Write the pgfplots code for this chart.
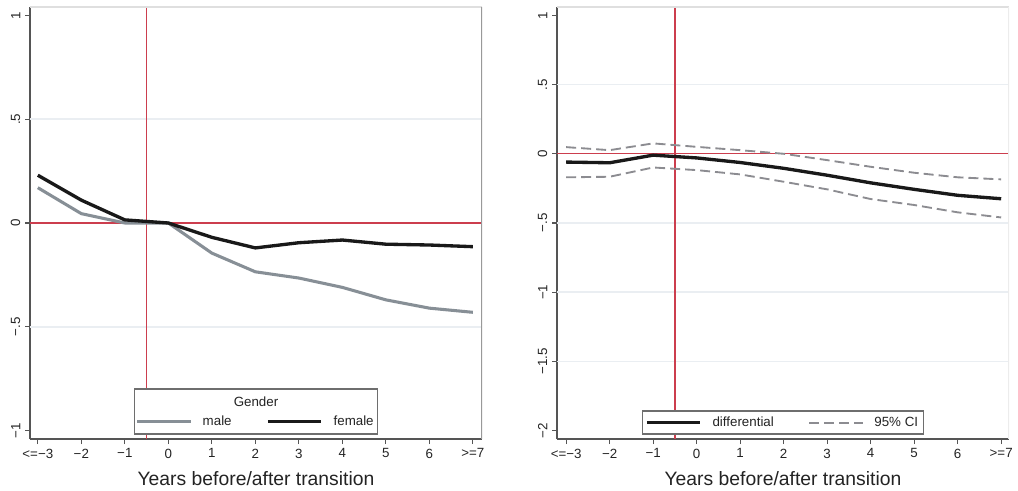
\documentclass[border=0pt]{standalone}
\usepackage{fontspec}
\setmainfont{Liberation Sans}
\usepackage{pgfplots}
\pgfplotsset{compat=1.18}
\definecolor{refred}{RGB}{204,62,78}
\definecolor{axisgray}{RGB}{85,85,85}
\definecolor{gridgray}{RGB}{234,238,242}
\definecolor{malegray}{RGB}{135,143,150}
\definecolor{cigray}{RGB}{140,140,145}
\definecolor{txt}{RGB}{35,35,35}
\definecolor{boxgray}{RGB}{110,110,110}

\pgfplotsset{
 common/.style={
  scale only axis, width=339pt, height=324pt,
  anchor=south west,
  axis lines=left, axis line style={-, draw=axisgray, line width=1.1pt},
  tick align=outside, major tick length=3.75pt,
  tick style={draw=axisgray, line width=0.9pt},
  xtick={-3,...,7},
  xticklabels={<=−3,−2,−1,0,1,2,3,4,5,6,>=7},
  ticklabel style={font=\fontsize{10}{12}\selectfont, text=txt},
  yticklabel style={rotate=90, anchor=south},
  xlabel={Years before/after transition},
  xlabel style={font=\fontsize{14.5}{17}\selectfont, text=txt, at={(axis description cs:0.5,0)}, anchor=base, yshift=-34.5pt},
  legend columns=2,
  legend style={draw=none, fill=none, font=\fontsize{10}{12}\selectfont, text=txt,
    /tikz/every odd column/.append style={column sep=6pt},
    /tikz/every even column/.append style={column sep=24pt}},
  legend cell align=left,
  legend image code/.code={\draw[##1] (0pt,0pt) -- (40pt,0pt);},
 }
}

\begin{document}
\begin{tikzpicture}
\path[use as bounding box] (0,0) rectangle (763.5pt,367.5pt);

% Left panel
\begin{axis}[common, at={(22.5pt,38.25pt)},
  xmin=-3.18, xmax=7.21, ymin=-1.04, ymax=1.04,
  ytick={-1,-0.5,0,0.5,1}, yticklabels={−1,−.5,0,.5,1},
  legend style={at={(0.5,0.040)}, anchor=center},
]
\addplot[color=gridgray, line width=1.1pt, forget plot] coordinates {(-3.18,0.5) (7.21,0.5)};
\addplot[color=gridgray, line width=1.1pt, forget plot] coordinates {(-3.18,-0.5) (7.21,-0.5)};
\addplot[color=refred, line width=1pt, forget plot] coordinates {(-0.5,-1.04) (-0.5,1.04)};
\addplot[color=refred, line width=1pt, forget plot] coordinates {(-3.18,0) (7.21,0)};
\addplot[color=malegray, line width=2.3pt] coordinates {
(-3,0.17)(-2,0.045)(-1,0.0)(0,0)(1,-0.145)(2,-0.235)(3,-0.265)(4,-0.31)(5,-0.37)(6,-0.41)(7,-0.43)};
\addlegendentry{male}
\addplot[color=black!90, line width=2.5pt] coordinates {
(-3,0.23)(-2,0.11)(-1,0.015)(0,0)(1,-0.069)(2,-0.12)(3,-0.095)(4,-0.082)(5,-0.102)(6,-0.106)(7,-0.114)};
\addlegendentry{female}
\draw[gray!25, line width=0.9pt] (rel axis cs:0,1) -- (rel axis cs:1,1);
\draw[gray!80, line width=1.1pt] (rel axis cs:1,0) -- (rel axis cs:1,1);
\draw[boxgray, line width=0.8pt, fill=white] (rel axis cs:0.232,0.0116) rectangle (rel axis cs:0.768,0.1157);
\node[font=\fontsize{10}{12}\selectfont, text=txt] at (rel axis cs:0.5,0.0863) {Gender};
\end{axis}

% Right panel
\begin{axis}[common, at={(417.75pt,38.25pt)},
  xmin=-3.21, xmax=7.18, ymin=-2.06, ymax=1.06,
  ytick={-2,-1.5,-1,-0.5,0,0.5,1}, yticklabels={−2,−1.5,−1,−.5,0,.5,1},
  legend style={at={(0.5,0.038)}, anchor=center},
]
\addplot[color=gridgray, line width=1.1pt, forget plot] coordinates {(-3.21,0.5) (7.18,0.5)};
\addplot[color=gridgray, line width=1.1pt, forget plot] coordinates {(-3.21,-0.5) (7.18,-0.5)};
\addplot[color=gridgray, line width=1.1pt, forget plot] coordinates {(-3.21,-1) (7.18,-1)};
\addplot[color=gridgray, line width=1.1pt, forget plot] coordinates {(-3.21,-1.5) (7.18,-1.5)};
\addplot[color=refred, line width=1pt, forget plot] coordinates {(-0.5,-2.06) (-0.5,1.06)};
\addplot[color=refred, line width=1pt, forget plot] coordinates {(-3.21,0) (7.18,0)};
\addplot[color=black!90, line width=2.5pt] coordinates {
(-3,-0.06)(-2,-0.065)(-1,-0.01)(0,-0.03)(1,-0.063)(2,-0.105)(3,-0.155)(4,-0.21)(5,-0.257)(6,-0.30)(7,-0.325)};
\addlegendentry{differential}
\addplot[color=cigray, line width=1.4pt, dash pattern=on 7.5pt off 3.75pt] coordinates {
(-3,0.048)(-2,0.026)(-1,0.075)(0,0.05)(1,0.026)(2,0.0)(3,-0.046)(4,-0.094)(5,-0.137)(6,-0.17)(7,-0.185)};
\addlegendentry{95\% CI}
\addplot[color=cigray, line width=1.4pt, dash pattern=on 7.5pt off 3.75pt, forget plot] coordinates {
(-3,-0.17)(-2,-0.166)(-1,-0.099)(0,-0.118)(1,-0.149)(2,-0.202)(3,-0.257)(4,-0.327)(5,-0.37)(6,-0.423)(7,-0.46)};
\draw[gray!25, line width=0.9pt] (rel axis cs:0,1) -- (rel axis cs:1,1);
\draw[gray!15, line width=1.1pt] (rel axis cs:1,0) -- (rel axis cs:1,1);
\draw[boxgray, line width=0.8pt, fill=white] (rel axis cs:0.190,0.0116) rectangle (rel axis cs:0.810,0.0648);
\end{axis}
\end{tikzpicture}
\end{document}
